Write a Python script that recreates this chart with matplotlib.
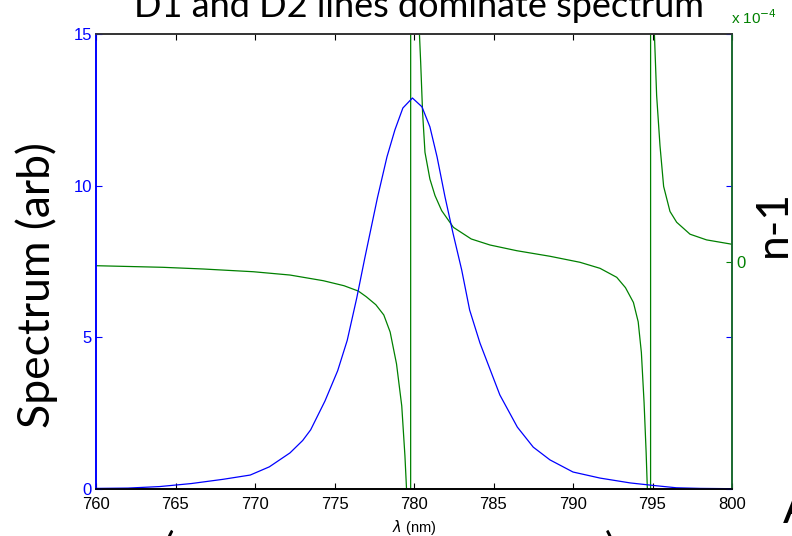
import numpy as np
import matplotlib.pyplot as plt

#=======================================================
# Data
#=======================================================

# spectrum (left axis, arb units)
wl_spec = [760, 762, 764, 766, 768, 769.7, 770.9, 772.2, 773.0, 773.5, 774.4,
           775.2, 775.8, 776.4, 776.9, 777.3, 777.7, 778.3, 778.8, 779.3, 779.9,
           780.5, 781.0, 781.45, 781.95, 782.45, 783.0, 783.5, 784.15,
           784.8, 785.4, 786.5, 787.5, 788.55, 790.0, 791.7, 793.6, 795.0,
           796.5, 798.0, 800.0]
spec = [0.02, 0.03, 0.08, 0.18, 0.32, 0.46, 0.73, 1.19, 1.6, 1.95, 2.9,
        3.9, 4.9, 6.3, 7.6, 8.6, 9.6, 10.95, 11.84, 12.56, 12.89,
        12.6, 11.94, 10.95, 9.63, 8.44, 7.22, 5.9, 4.81,
        3.92, 3.1, 2.04, 1.38, 0.96, 0.56, 0.36, 0.2, 0.12,
        0.04, 0.02, 0.01]

# refractive index n-1 (right axis, units of 1e-4)
wl_n = [760, 764.2, 766.75, 769.9, 772.2, 774.3, 775.6, 776.5, 777.0, 777.6, 778.1,
        778.5, 778.9, 779.23, 779.43, 779.53, 779.78, 779.80, 780.25, 780.33,
        780.42, 780.54, 780.69, 781.0, 781.32, 781.74, 782.48, 783.6, 784.78,
        786.46, 788.55, 790.44, 791.7, 792.75, 793.3, 793.8, 794.1, 794.3,
        794.47, 794.6, 794.7, 794.87, 794.89, 795.05, 795.12, 795.26, 795.47,
        795.7, 796.1, 796.52, 797.36, 798.4, 799.9, 800.0]
n_minus_1 = [-0.037, -0.051, -0.066, -0.09, -0.119, -0.169, -0.213, -0.26, -0.31, -0.38, -0.47,
             -0.62, -0.9, -1.27, -1.71, -2.0, -30, 30, 3.0, 2.04,
             1.75, 1.31, 0.96, 0.725, 0.58, 0.447, 0.30, 0.198, 0.145,
             0.095, 0.046, -0.007, -0.06, -0.139, -0.23, -0.36, -0.53, -0.8,
             -1.24, -1.68, -2.1, -30, 30, 3.0, 2.0, 1.46, 1.02,
             0.66, 0.44, 0.345, 0.24, 0.19, 0.154, 0.15]

x_ticks = [760, 765, 770, 775, 780, 785, 790, 795, 800]
left_ticks = [0, 5, 10, 15]

#=======================================================
# Plot
#=======================================================

blue = (0, 0, 1)
green = (0, 0.5, 0)
tick_font = 'Liberation Sans'
big_font = 'Lato'

fig = plt.figure(figsize=(7.92, 5.36), dpi=100)
ax1 = fig.add_axes([96/792, 47/536, 636/792, 455/536])
ax2 = ax1.twinx()

ax2.plot(wl_n, np.array(n_minus_1)*1e-4, color=green, lw=0.9)
ax1.plot(wl_spec, spec, color=blue, lw=0.9)
ax1.set_zorder(ax2.get_zorder() + 1)
ax1.patch.set_visible(False)

ax1.set_xlim(760, 800)
ax1.set_ylim(0, 15)
ax2.set_ylim(-2e-4, 2e-4)

ax1.set_xticks(x_ticks)
ax1.set_xticklabels([str(v) for v in x_ticks], fontfamily=tick_font, fontsize=12)
ax1.set_yticks(left_ticks)
ax1.set_yticklabels([str(v) for v in left_ticks], fontfamily=tick_font, fontsize=12, color=blue)
ax1.tick_params(axis='x', direction='in', length=4, top=True, color='black', pad=6)
ax1.tick_params(axis='y', direction='in', length=4, right=True, colors=blue, pad=3)

ax2.set_yticks([0])
ax2.set_yticklabels(['0'], fontfamily=tick_font, fontsize=12, color=green)
ax2.tick_params(axis='y', direction='in', length=4, colors=green, pad=3)

for ax in (ax1, ax2):
    ax.spines['top'].set_color('#333333')
    ax.spines['bottom'].set_color('black')
    ax.spines['left'].set_color(blue)
    ax.spines['right'].set_color('#1a6a30')
    for s in ax.spines.values():
        s.set_linewidth(1.2)

ax1.set_xlabel(r'$\lambda$ (nm)', fontfamily=tick_font, fontsize=10.5, labelpad=4)

# exponent label of the right axis
fig.text(731/792, 1 - 24/536, r'x 10$^{-4}$', color=green, fontfamily=tick_font,
         fontsize=11, ha='left', va='baseline')

# slide texts
fig.text(419/792, 1 - 17/536, 'D1 and D2 lines dominate spectrum', fontfamily=big_font,
         fontsize=26, ha='center', va='baseline')
fig.text(37/792, 1 - 285/536, 'Spectrum (arb)', fontfamily=big_font, fontsize=32,
         rotation=90, ha='center', va='center')
fig.text(773/792, 1 - 223/536, 'n-1', fontfamily=big_font, fontsize=32,
         rotation=90, ha='center', va='center')
fig.text(783/792, 1 - 523/536, 'A', fontfamily=big_font, fontsize=33,
         ha='left', va='baseline')
fig.text(168/792, 1 - 530/536, '(', fontfamily=big_font, fontsize=28,
         ha='center', va='top')
fig.text(610/792, 1 - 530/536, ')', fontfamily=big_font, fontsize=28,
         ha='center', va='top')

fig.savefig('out.png', dpi=100)
